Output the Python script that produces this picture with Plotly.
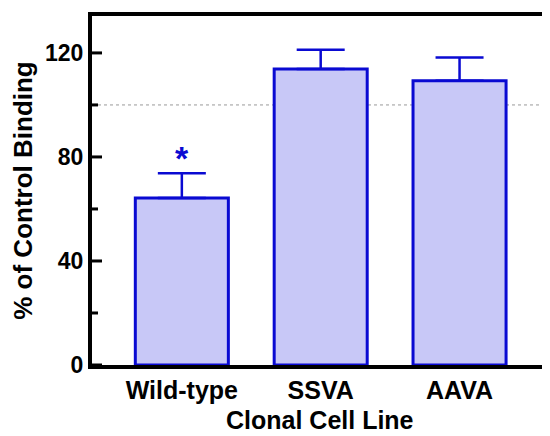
import plotly.graph_objects as go

categories = ["Wild-type", "SSVA", "AAVA"]
values = [64.2, 113.8, 109.3]
errors_up = [9.5, 7.4, 8.9]
y_major_ticks = [0, 40, 80, 120]
y_minor_ticks = [20, 60, 100]
reference_level = 100
significance_marks = ["*", "", ""]

BLUE = "#0a0ad2"
FILL = "#c8c8f7"
FONT = "Liberation Sans, Arial, sans-serif"
Y_RANGE = [0, 134.2]
PLOT_W = 456  # plot area width in px (542 - 84 - 2)

fig = go.Figure()
fig.add_trace(go.Bar(
    x=categories, y=values,
    width=0.67,
    marker=dict(color=FILL, line=dict(color=BLUE, width=3)),
    error_y=dict(type="data", array=errors_up, arrayminus=[0] * len(values),
                 symmetric=False, color=BLUE, thickness=2.5, width=24),
    showlegend=False,
))

for c, v, e, m in zip(categories, values, errors_up, significance_marks):
    if m:
        fig.add_annotation(x=c, y=v + e, text=m, showarrow=False,
                           yanchor="bottom", yshift=-6,
                           font=dict(family=FONT, size=34, color=BLUE, weight="bold"))

fig.add_shape(type="line", xref="paper", x0=0, x1=1, yref="y",
              y0=reference_level, y1=reference_level,
              line=dict(color="#999999", width=1, dash="dot"), layer="below")
fig.add_shape(type="line", xref="paper", x0=1, x1=1, yref="paper", y0=0, y1=1,
              line=dict(color="black", width=2))

# inward tick marks on the y axis (major longer than minor)
for vals, length in ((y_major_ticks, 10), (y_minor_ticks, 6)):
    for v in vals:
        fig.add_shape(type="line", xref="x domain", x0=-1 / PLOT_W, x1=length / PLOT_W,
                      yref="y", y0=v, y1=v, line=dict(color="black", width=3))

# x axis title as an annotation so it can sit lower than the margin allows
fig.add_annotation(text="Clonal Cell Line", xref="paper", x=0.5, yref="paper", y=0,
                   xanchor="center", yanchor="middle", yshift=-55, showarrow=False,
                   font=dict(family=FONT, size=25, weight="bold", color="black"))

# the page body adds an 8px margin, so the figure is sized to fill the rest
fig.update_layout(
    width=542, height=428,
    margin=dict(l=84, r=2, t=8, b=71),
    plot_bgcolor="white", paper_bgcolor="white",
    font=dict(family=FONT, color="black"),
)
fig.update_xaxes(
    range=[-0.647, 2.637], automargin=False,
    showline=True, linewidth=4, linecolor="black", mirror=True,
    ticks="", showgrid=False, zeroline=False,
    tickfont=dict(family=FONT, size=25, weight="bold"),
)
fig.update_yaxes(
    range=Y_RANGE, automargin=False,
    tickmode="array", tickvals=y_major_ticks,
    showline=True, linewidth=4, linecolor="black",
    ticks="", showgrid=False, zeroline=False,
    tickfont=dict(family=FONT, size=23, weight="bold"),
    title=dict(text="% of Control Binding", font=dict(family=FONT, size=26, weight="bold"), standoff=8),
)

fig.write_html("out.html")
